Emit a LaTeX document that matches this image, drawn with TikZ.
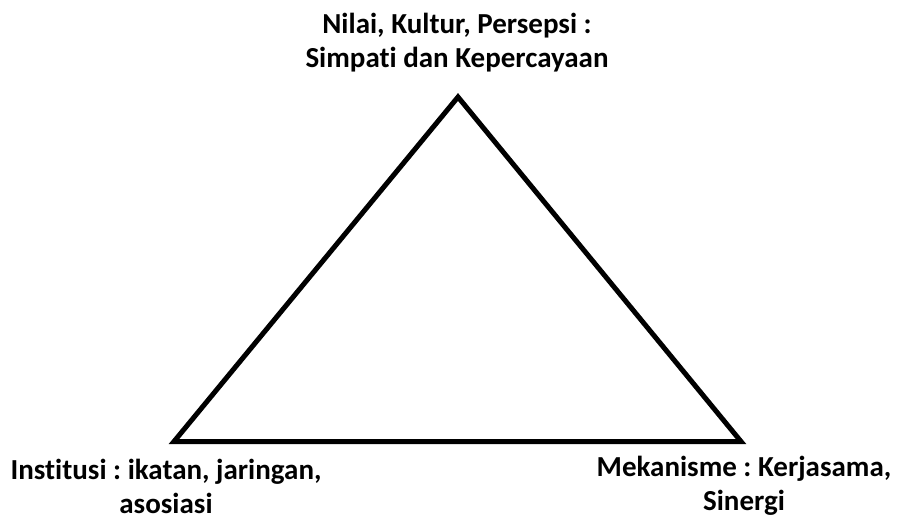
\documentclass[tikz,border=0pt]{standalone}
\usepackage{fontspec}
\setmainfont{Carlito}[Ligatures=NoCommon]
\frenchspacing
\begin{document}
\begin{tikzpicture}[x=1pt,y=-1pt,
  lbl/.style={font=\bfseries\fontsize{29}{34}\selectfont, align=center, inner sep=0pt, anchor=base},
  edge/.style={line width=5pt, line join=miter}]
\useasboundingbox (0,0) rectangle (897,522);
\coordinate (top) at (458,97);
\coordinate (bl) at (174,441.5);
\coordinate (br) at (741,441.5);
\draw[edge] (top) -- (bl) -- (br) -- cycle;
\node[lbl] (t) at (457,67) {Nilai, Kultur, Persepsi :\\Simpati dan Kepercayaan};
\node[lbl] (l) at (166,513) {Institusi : ikatan, jaringan,\\asosiasi};
\node[lbl] (r) at (744,510) {Mekanisme : Kerjasama,\\Sinergi};
\end{tikzpicture}
\end{document}
